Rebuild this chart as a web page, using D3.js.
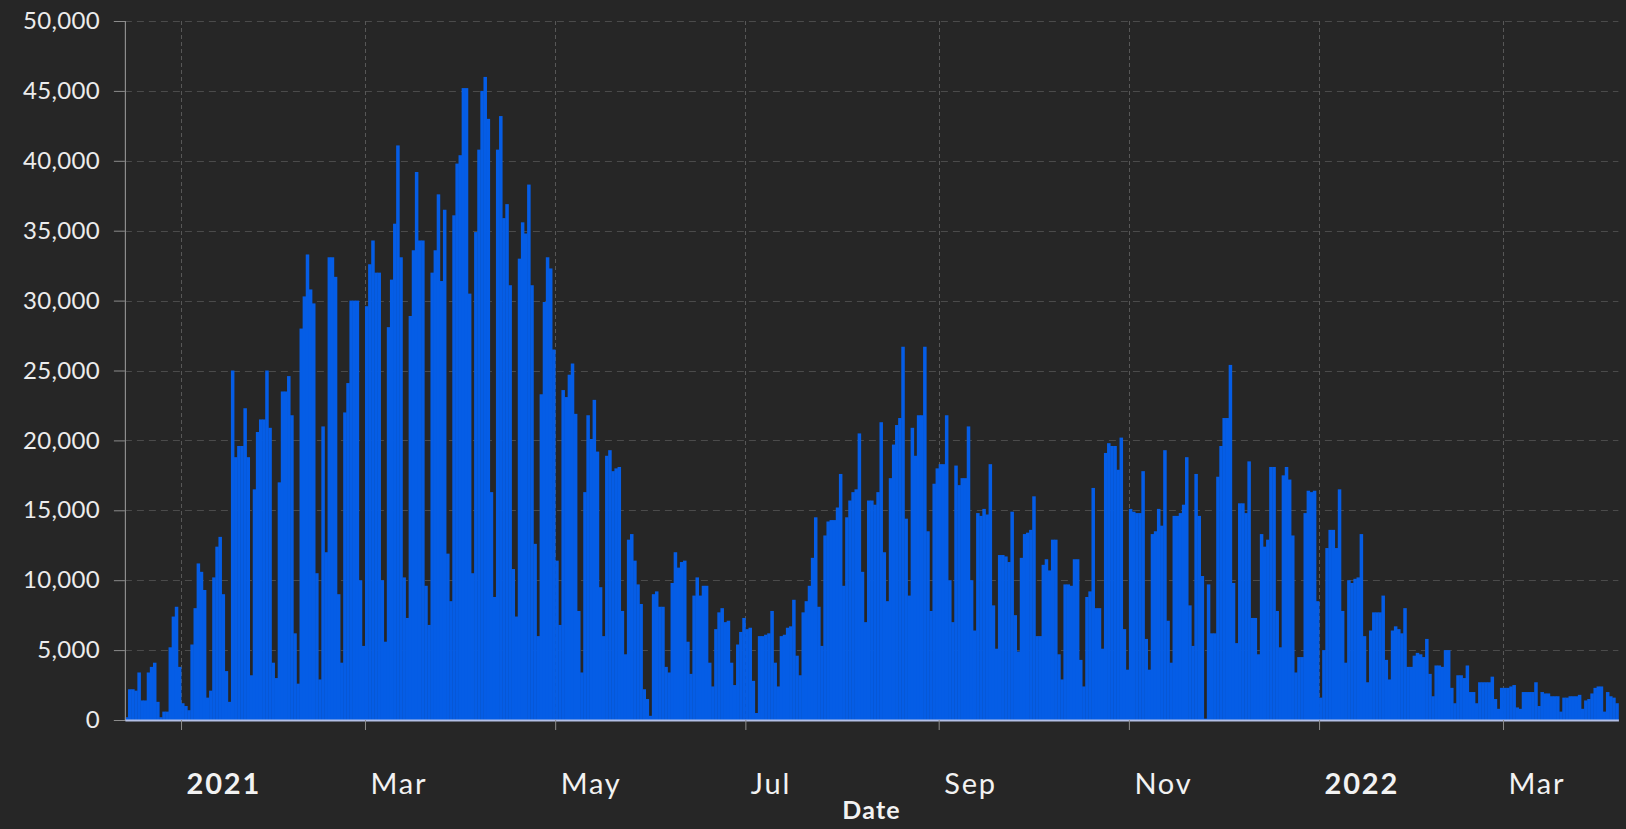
<!DOCTYPE html>
<html>
<head>
<meta charset="utf-8">
<script src="https://cdn.jsdelivr.net/npm/d3@7"></script>
<style>
  html, body { margin: 0; padding: 0; background: #262626; }
  svg { display: block; }
</style>
</head>
<body>
<svg id="chart" width="1626" height="829"></svg>
<script>
// ---- Data: daily values, one per day starting at startDate ----
const startDate = "2020-12-14";
const endDate = "2022-04-07"; // exclusive end of x domain

// Dec 14 2020 – Apr 11 2021
const dosesA = [
  200, 2200, 2200, 2100, 3400, 1400, 1400,
  3400, 3800, 4100, 1300, 200, 600, 600,
  5200, 7400, 8100, 3800, 1200, 1000, 700,
  5400, 8000, 11200, 10600, 9300, 1600, 2100,
  10200, 12400, 13100, 9000, 3500, 1300, 25000,
  18800, 19600, 19600, 22300, 18800, 3200, 16500,
  20600, 21500, 21500, 25000, 20900, 4100, 3000,
  17000, 23500, 23500, 24600, 21800, 6200, 2600,
  28000, 30300, 33300, 30800, 29800, 10500, 2900,
  21000, 12000, 33100, 33100, 31700, 9000, 4100,
  22000, 24100, 30000, 30000, 30000, 10000, 5300,
  29600, 32600, 34300, 32000, 32000, 10000, 5600,
  28100, 31500, 35500, 41100, 33100, 10200, 7300,
  28900, 33600, 39200, 34300, 34300, 9600, 6800,
  32000, 33600, 37600, 31400, 36500, 11900, 8500,
  36100, 39800, 40400, 45200, 45200, 30500, 10500,
  34900, 40800, 45000, 46000, 43000, 16300, 8800
];
// Apr 12 – Aug 8 2021
const dosesB = [
  40800, 43200, 35900, 36900, 31100, 10800, 7400,
  33000, 35600, 34800, 38300, 31100, 12600, 6000,
  23300, 29900, 33100, 32300, 26500, 11400, 6800,
  23600, 23100, 24700, 25500, 21900, 7800, 3400,
  16300, 21800, 20100, 22900, 19200, 9500, 6000,
  18900, 19300, 17800, 18000, 18100, 7800, 4700,
  12900, 13300, 11400, 9700, 8300, 2200, 1500,
  300, 9000, 9200, 8100, 8100, 3800, 3400,
  9800, 12000, 10900, 11300, 11400, 5600, 3300,
  8900, 10200, 8900, 9600, 9600, 4100, 2400,
  6500, 7700, 8000, 7000, 7100, 4100, 2500,
  5400, 6300, 7300, 6500, 6600, 2800, 500,
  6000, 6000, 6100, 6200, 7800, 4100, 2400,
  6000, 6100, 6600, 6700, 8600, 4600, 3200,
  7700, 8500, 9600, 11600, 14500, 8100, 5300,
  13200, 14200, 14300, 14300, 15200, 17600, 9600,
  14500, 15700, 16300, 16500, 20500, 10600, 7000
];
// Aug 9 – Dec 5 2021
const dosesC = [
  15700, 15700, 15400, 16300, 21300, 12000, 8500,
  17300, 19700, 21100, 21600, 26700, 14400, 8900,
  20900, 18900, 21800, 21800, 26700, 13500, 7800,
  16900, 18000, 18300, 18300, 21800, 10000, 7000,
  18200, 16800, 17300, 17300, 21000, 10000, 6400,
  14800, 14600, 15100, 14700, 18300, 8200, 5100,
  11800, 11800, 11700, 11300, 14900, 7500, 4900,
  11600, 13300, 13400, 13600, 16000, 6000, 6000,
  11100, 11500, 10700, 12900, 12900, 4700, 2900,
  9700, 9700, 9600, 11500, 11500, 4300, 2400,
  8800, 9200, 16600, 8000, 8000, 5100, 19100,
  19800, 19600, 19600, 17900, 20200, 6500, 3600,
  15100, 14900, 14800, 14800, 17800, 5800, 3600,
  13300, 13500, 15100, 13900, 19300, 7100, 4100,
  14600, 14600, 14800, 15400, 18800, 8200, 5300,
  17600, 14600, 10300, 100, 9700, 6200, 6200,
  17400, 19600, 21600, 21600, 25400, 9800, 5500
];
// Dec 6 2021 – Apr 6 2022
const dosesD = [
  15500, 15500, 14800, 18500, 7300, 7300, 4700,
  13300, 12400, 12900, 18100, 18100, 7800, 5200,
  17500, 18100, 17200, 13200, 3400, 4500, 4500,
  14800, 16400, 16300, 16400, 8500, 1600, 5000,
  12300, 13600, 13600, 12300, 16500, 7800, 4100,
  10000, 9800, 10100, 10200, 13300, 6000, 2700,
  6400, 7700, 7700, 7700, 8900, 4300, 2900,
  6400, 6700, 6500, 6200, 8000, 3800, 3800,
  4600, 4800, 4700, 4500, 5800, 3300, 1700,
  3900, 3900, 3800, 5000, 5000, 2300, 1200,
  3200, 3200, 3000, 3900, 2000, 2000, 1200,
  2700, 2700, 2700, 2700, 3100, 1500, 800,
  2300, 2300, 2300, 2400, 2500, 900, 800,
  2000, 2000, 2000, 2000, 2700, 1000, 2000,
  1900, 1900, 1700, 1700, 1700, 600, 1600,
  1600, 1700, 1700, 1700, 1800, 800, 1400,
  1500, 1900, 2300, 2400, 2400, 600, 2000,
  1700, 1600, 1200
];

const yTicks = [0, 5000, 10000, 15000, 20000, 25000, 30000, 35000, 40000, 45000, 50000];
const xAxisTitle = "Date";

// ---- Build ----
const values = dosesA.concat(dosesB, dosesC, dosesD);
const parse = d3.utcParse("%Y-%m-%d");
const t0 = parse(startDate);
const data = values.map((v, i) => ({ date: d3.utcDay.offset(t0, i), value: v }));

const W = 1626, H = 829;
const margin = { left: 124.9, right: 7.6, top: 21, bottom: 109 };
const svg = d3.select("#chart");
svg.append("rect").attr("width", W).attr("height", H).attr("fill", "#262626");

const x = d3.scaleUtc()
  .domain([t0, parse(endDate)])
  .range([margin.left, W - margin.right]);
const y = d3.scaleLinear()
  .domain([0, 50000])
  .range([H - margin.bottom, margin.top]);

const xTickDates = d3.utcMonth.every(2).range(parse("2021-01-01"), parse(endDate));
const FONT = "Lato, 'Open Sans', sans-serif";

// grid
svg.append("g").attr("stroke", "#4b4b4b").attr("stroke-width", 1)
  .attr("stroke-dasharray", "7,5")
  .selectAll("line").data(yTicks.filter(d => d > 0)).join("line")
  .attr("x1", margin.left).attr("x2", W - margin.right)
  .attr("y1", d => Math.round(y(d)) + 0.5).attr("y2", d => Math.round(y(d)) + 0.5);
svg.append("g").attr("stroke", "#575757").attr("stroke-width", 1)
  .attr("stroke-dasharray", "4,3")
  .selectAll("line").data(xTickDates).join("line")
  .attr("x1", d => Math.round(x(d)) + 0.5).attr("x2", d => Math.round(x(d)) + 0.5)
  .attr("y1", margin.top).attr("y2", H - margin.bottom);

// bars
svg.append("g").attr("fill", "#055de6")
  .selectAll("rect").data(data).join("rect")
  .attr("x", d => x(d.date))
  .attr("width", d => x(d3.utcDay.offset(d.date, 1)) - x(d.date) + 0.4)
  .attr("y", d => y(d.value))
  .attr("height", d => y(0) - y(d.value));

// y axis
const yAxis = d3.axisLeft(y).tickValues(yTicks).tickFormat(d3.format(",")).tickSize(11).tickPadding(14);
const gy = svg.append("g").attr("transform", `translate(${margin.left},0)`).call(yAxis);
gy.select(".domain").attr("stroke", "#8c8c8c").attr("stroke-width", 1.2);
gy.selectAll(".tick line").attr("stroke", "#8c8c8c");
gy.selectAll(".tick text").attr("fill", "#ececec")
  .style("font-family", FONT).style("font-size", "24px").style("letter-spacing", "0.3px");

// x axis
const fmtMonth = d3.utcFormat("%b"), fmtYear = d3.utcFormat("%Y");
const xAxis = d3.axisBottom(x).tickValues(xTickDates)
  .tickFormat(d => d.getUTCMonth() === 0 ? fmtYear(d) : fmtMonth(d))
  .tickSize(10).tickSizeOuter(0).tickPadding(0);
const gx = svg.append("g").attr("transform", `translate(0,${H - margin.bottom})`).call(xAxis);
gx.select(".domain").attr("stroke", "#b3bfe6").attr("stroke-width", 2);
gx.selectAll(".tick line").attr("stroke", "#8c8c8c");
gx.selectAll(".tick text")
  .attr("fill", "#f2f2f2")
  .attr("text-anchor", "start")
  .attr("x", 5).attr("y", 74).attr("dy", 0)
  .style("font-family", FONT).style("font-size", "29px").style("letter-spacing", "1.8px")
  .style("font-weight", d => d.getUTCMonth() === 0 ? "700" : "400");

// axis title
svg.append("text")
  .attr("x", (margin.left + W - margin.right) / 2).attr("y", 819)
  .attr("text-anchor", "middle")
  .attr("fill", "#f2f2f2")
  .style("font-family", FONT).style("font-size", "25px").style("font-weight", "700")
  .style("letter-spacing", "1.2px")
  .text(xAxisTitle);
</script>
</body>
</html>
